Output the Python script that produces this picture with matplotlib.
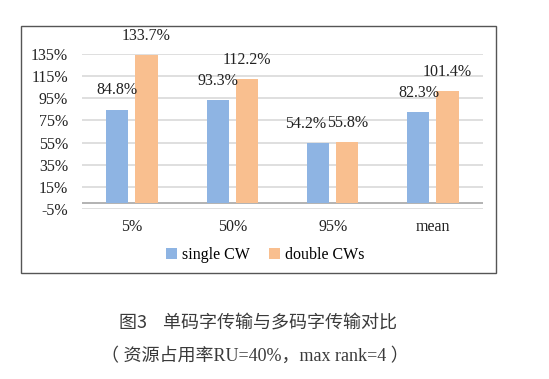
import matplotlib
matplotlib.use('Agg')
import matplotlib.pyplot as plt
import numpy as np
from matplotlib.patches import Rectangle

categories = ['5%', '50%', '95%', 'mean']
single_cw = [84.8, 93.3, 54.2, 82.3]
double_cws = [133.7, 112.2, 55.8, 101.4]
yticks = [-5, 15, 35, 55, 75, 95, 115, 135]

plt.rcParams['font.family'] = ['Liberation Serif', 'Noto Sans CJK SC']

fig = plt.figure(figsize=(5.49, 3.79), dpi=100)
fig.patch.set_facecolor('white')

# outer chart frame
fig.patches.append(Rectangle((0.038, 0.2797), 0.865, 0.651, transform=fig.transFigure,
                             fill=False, edgecolor='#555555', linewidth=1.0))

ax = fig.add_axes([0.149, 0.4485, 0.731, 0.409])
x = np.arange(len(categories))
w = 0.22
off = 0.145
b1 = ax.bar(x - off, single_cw, w, color='#8eb4e3', label='single CW', zorder=3)
b2 = ax.bar(x + off, double_cws, w, color='#f9bf8f', label='double CWs', zorder=3)

for bars, vals in ((b1, single_cw), (b2, double_cws)):
    for i, (r, v) in enumerate(zip(bars, vals)):
        dx = -9 if (bars is b1 and i == 2) else 0  # label nudged left like the original
        ax.annotate(f'{v:.1f}%', (r.get_x() + r.get_width() / 2, v),
                    xytext=(dx, 8), textcoords='offset points',
                    ha='center', va='bottom', fontsize=11.5, color='#222222',
                    annotation_clip=False)

ax.set_xlim(-0.5, len(categories) - 0.5)
ax.set_ylim(-5, 135)
ax.set_yticks(yticks)
ax.set_yticklabels([f'{t}%' for t in yticks])
ax.set_xticks(x)
ax.set_xticklabels(categories)
ax.yaxis.grid(True, color='#d9d9d9', linewidth=1.2, zorder=0)
ax.axhline(0, color='#a6a6a6', linewidth=1.2, zorder=2)
ax.tick_params(axis='both', length=0, labelsize=11.5, colors='#222222')
ax.tick_params(axis='y', pad=10)
ax.tick_params(axis='x', pad=7)
for s in ax.spines.values():
    s.set_visible(False)

fig.legend(handles=[b1, b2], loc='center', bbox_to_anchor=(0.483, 0.328),
           ncol=2, frameon=False, fontsize=11.5, handlelength=0.7, handleheight=0.7,
           handletextpad=0.3, columnspacing=1.2)

fig.text(0.47, 0.148, '图3    单码字传输与多码字传输对比', ha='center', va='center',
         fontsize=13, color='#3a3a3a', weight='light',
         family=['Noto Sans CJK SC', 'DejaVu Sans'])
fig.text(0.465, 0.06, '（ 资源占用率RU=40%，max rank=4 ）', ha='center', va='center',
         fontsize=13, color='#3a3a3a', weight='light',
         family=['Liberation Serif', 'Noto Sans CJK SC'])

fig.savefig('out.png', dpi=100)
